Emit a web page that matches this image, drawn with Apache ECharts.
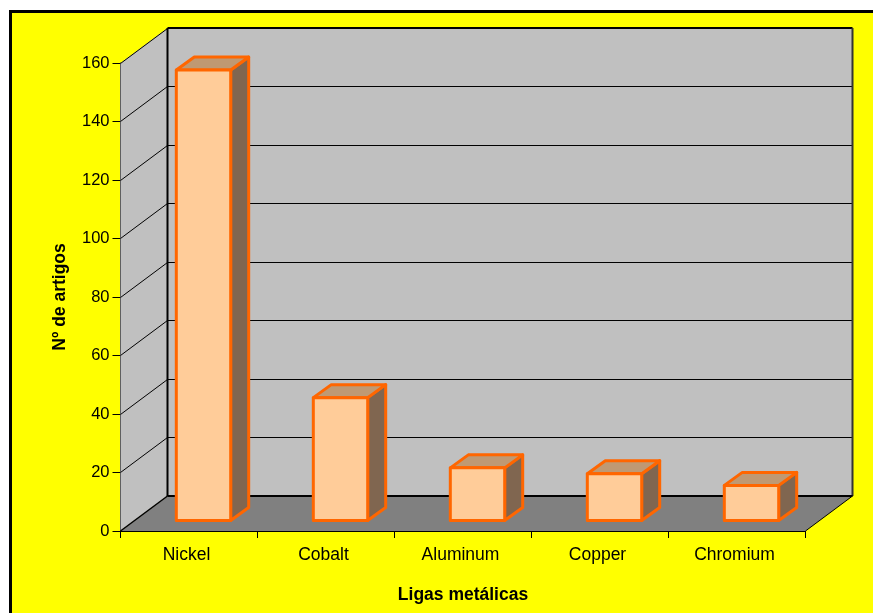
<!DOCTYPE html>
<html>
<head>
<meta charset="utf-8">
<style>html,body{margin:0;padding:0;background:#fff}#c{width:873px;height:613px}</style>
<script src="https://cdn.jsdelivr.net/npm/echarts@6/dist/echarts.min.js"></script>
</head>
<body>
<div id="c"></div>
<script>
const categories = ['Nickel', 'Cobalt', 'Aluminum', 'Copper', 'Chromium'];
const articleCounts = [154, 42, 18, 16, 12];
const gridTicks = [20, 40, 60, 80, 100, 120, 140, 160];
const xTitle = 'Ligas metálicas';
const yTitle = 'Nº de artigos';

// 3D look: offset of the back wall, of the bar's front plane, and of the bar's depth
const WALL = [47, -35];
const BAR_SHIFT = [14.5, -10.5];
const BAR_DEPTH = [18, -13];
const BAR_W = 0.397;
const STROKE = '#FF6600';
const FONT = '"Liberation Sans", Arial, sans-serif';

function poly(points, fill, stroke, w) {
  return { type: 'polygon', shape: { points }, style: { fill, stroke: stroke || null, lineWidth: w || 0, lineJoin: 'round' } };
}
function line(a, b, w, color) {
  return { type: 'line', shape: { x1: a[0], y1: a[1], x2: b[0], y2: b[1] }, style: { stroke: color || '#000', lineWidth: w } };
}

function renderRoom(params, api) {
  const cs = params.coordSys;
  const L = cs.x, R = cs.x + cs.width, T = cs.y, B = cs.y + cs.height;
  const dx = WALL[0], dy = WALL[1];
  const kids = [
    poly([[L + dx, T + dy], [R + dx, T + dy], [R + dx, B + dy], [L + dx, B + dy]], '#C0C0C0'),
    poly([[L, B], [L, T], [L + dx, T + dy], [L + dx, B + dy]], '#C0C0C0'),
    poly([[L, B], [R, B], [R + dx, B + dy], [L + dx, B + dy]], '#808080')
  ];
  gridTicks.forEach(function (v) {
    const y = Math.floor(api.coord([0, v])[1]) + 0.5;
    kids.push(line([L, y], [L + dx, y + dy], 1));
    if (v < 160) kids.push(line([L + dx, y + dy], [R + dx, y + dy], 1));
  });
  kids.push(line([L + dx, T + dy], [R + dx, T + dy], 2));
  kids.push(line([L + dx, T + dy], [L + dx, B + dy], 2));
  kids.push(line([R + dx, T + dy], [R + dx, B + dy], 2, '#333'));
  kids.push(line([L + dx, B + dy], [R + dx, B + dy], 2));
  kids.push(line([L, B], [L + dx, B + dy], 1.5));
  kids.push(line([R, B], [R + dx, B + dy], 1));
  return { type: 'group', children: kids };
}

function renderBar(params, api) {
  const i = api.value(0), v = api.value(1);
  const top = api.coord([i, v]), base = api.coord([i, 0]);
  const w = api.size([1, 0])[0] * BAR_W;
  const x0 = top[0] - w / 2 + BAR_SHIFT[0], x1 = x0 + w;
  const yT = top[1] + BAR_SHIFT[1], yB = base[1] + BAR_SHIFT[1];
  const dx = BAR_DEPTH[0], dy = BAR_DEPTH[1];
  return {
    type: 'group',
    children: [
      poly([[x1, yT], [x1 + dx, yT + dy], [x1 + dx, yB + dy], [x1, yB]], '#806650', STROKE, 3),
      poly([[x0, yT], [x0 + dx, yT + dy], [x1 + dx, yT + dy], [x1, yT]], '#BF9973', STROKE, 3),
      poly([[x0, yT], [x1, yT], [x1, yB], [x0, yB]], '#FFCC99', STROKE, 3)
    ]
  };
}

const chart = echarts.init(document.getElementById('c'), null, { renderer: 'canvas' });
chart.setOption({
  animation: false,
  backgroundColor: '#fff',
  graphic: [{
    type: 'rect', z: -10, silent: true,
    shape: { x: 10.5, y: 11.5, width: 880, height: 620 },
    style: { fill: '#FFFF00', stroke: '#000', lineWidth: 3 }
  }],
  grid: { left: 120.5, right: 67.5, top: 63, bottom: 82 },
  xAxis: {
    type: 'category', data: categories,
    name: xTitle, nameLocation: 'middle', nameGap: 55,
    nameTextStyle: { fontFamily: FONT, fontWeight: 'bold', fontSize: 17.5, color: '#000' },
    axisLine: { show: true, onZero: false, lineStyle: { color: '#000', width: 1 } },
    axisTick: { show: true, alignWithLabel: false, length: 7, lineStyle: { color: '#000' } },
    axisLabel: { fontFamily: FONT, fontSize: 17.5, color: '#000', margin: 15, interval: 0, padding: [0, 5, 0, 0] },
    splitLine: { show: false }
  },
  yAxis: {
    type: 'value', min: 0, max: 160, interval: 20,
    name: yTitle, nameLocation: 'middle', nameGap: 51, nameRotate: 90,
    nameTextStyle: { fontFamily: FONT, fontWeight: 'bold', fontSize: 17.5, color: '#000' },
    axisLine: { show: true, lineStyle: { color: '#000', width: 1 } },
    axisTick: { show: true, length: 8, lineStyle: { color: '#000' } },
    axisLabel: { fontFamily: FONT, fontSize: 16.5, color: '#000', margin: 11, padding: [2, 0, 0, 0] },
    splitLine: { show: false }
  },
  series: [
    { type: 'custom', name: 'room', silent: true, z: 1, renderItem: renderRoom, data: [[0, 0]], encode: { x: 0, y: 1 } },
    { type: 'custom', name: yTitle, z: 3, renderItem: renderBar, encode: { x: 0, y: 1 },
      data: articleCounts.map(function (v, i) { return [i, v]; }) }
  ]
});
</script>
</body>
</html>
